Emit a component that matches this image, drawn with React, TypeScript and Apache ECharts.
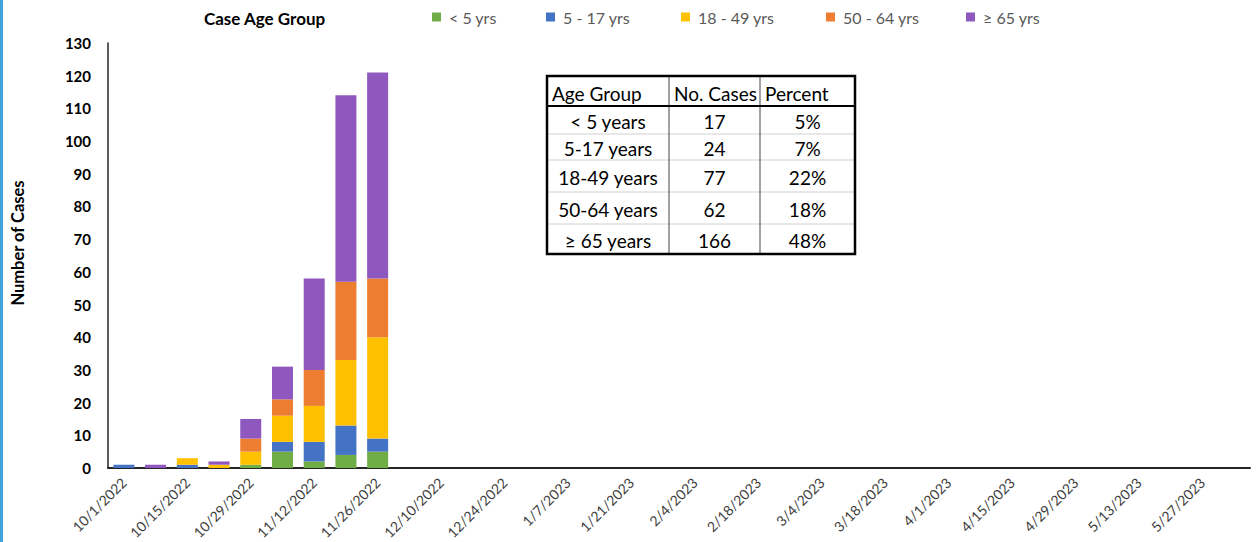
import React, { useEffect, useRef } from 'react';
import * as echarts from 'echarts';

const weeks = [
  '10/1/2022', '10/8/2022', '10/15/2022', '10/22/2022', '10/29/2022', '11/5/2022',
  '11/12/2022', '11/19/2022', '11/26/2022', '12/3/2022', '12/10/2022', '12/17/2022',
  '12/24/2022', '12/31/2022', '1/7/2023', '1/14/2023', '1/21/2023', '1/28/2023',
  '2/4/2023', '2/11/2023', '2/18/2023', '2/25/2023', '3/4/2023', '3/11/2023',
  '3/18/2023', '3/25/2023', '4/1/2023', '4/8/2023', '4/15/2023', '4/22/2023',
  '4/29/2023', '5/6/2023', '5/13/2023', '5/20/2023', '5/27/2023', '6/3/2023',
];

const seriesNames = ['< 5 yrs', '5 - 17 yrs', '18 - 49 yrs', '50 - 64 yrs', '≥ 65 yrs'];
const under5 = [0, 0, 0, 0, 1, 5, 2, 4, 5];
const age5to17 = [1, 0, 1, 0, 0, 3, 6, 9, 4];
const age18to49 = [0, 0, 2, 1, 4, 8, 11, 20, 31];
const age50to64 = [0, 0, 0, 0, 4, 5, 11, 24, 18];
const age65plus = [0, 1, 0, 1, 6, 10, 28, 57, 63];
const seriesColors = ['#70AD47', '#4472C4', '#FFC000', '#ED7D31', '#8E58BF'];

const tableHeaders = ['Age Group', 'No. Cases', 'Percent'];
const tableGroups = ['< 5 years', '5-17 years', '18-49 years', '50-64 years', '≥ 65 years'];
const tableCases = [17, 24, 77, 62, 166];
const tablePercents = ['5%', '7%', '22%', '18%', '48%'];

const FONT = 'Lato, "Open Sans", sans-serif';

export default function App() {
  const ref = useRef<HTMLDivElement>(null);
  useEffect(() => {
    const chart = echarts.init(ref.current!, null, { renderer: 'svg' });
    const data = [under5, age5to17, age18to49, age50to64, age65plus];
    const legendLeft = [432, 546, 681, 826, 966];

    // table geometry
    const colX = [547, 669, 760, 855];
    const rowY = [76, 106, 134, 160, 192, 224, 254];
    const tableEls: any[] = [];
    tableEls.push({
      type: 'rect',
      shape: { x: colX[0], y: rowY[0], width: colX[3] - colX[0], height: rowY[6] - rowY[0] },
      style: { fill: '#ffffff', stroke: 'none' },
    });
    for (let r = 2; r < 6; r++) {
      tableEls.push({
        type: 'line',
        shape: { x1: colX[0], y1: rowY[r], x2: colX[3], y2: rowY[r] },
        style: { stroke: '#d0d0d0', lineWidth: 1 },
      });
    }
    for (let c = 1; c < 3; c++) {
      tableEls.push({
        type: 'line',
        shape: { x1: colX[c], y1: rowY[0], x2: colX[c], y2: rowY[6] },
        style: { stroke: '#444444', lineWidth: 1 },
      });
    }
    tableEls.push({
      type: 'line',
      shape: { x1: colX[0], y1: rowY[1], x2: colX[3], y2: rowY[1] },
      style: { stroke: '#000000', lineWidth: 2 },
    });
    tableEls.push({
      type: 'rect',
      shape: { x: colX[0], y: rowY[0], width: colX[3] - colX[0], height: rowY[6] - rowY[0] },
      style: { fill: 'none', stroke: '#000000', lineWidth: 2.5 },
    });
    tableHeaders.forEach((h, i) => {
      tableEls.push({
        type: 'text',
        x: colX[i] + 5,
        y: (rowY[0] + rowY[1]) / 2 + 2,
        style: { text: h, fontSize: 19, fontFamily: FONT, fill: '#000', align: 'left', verticalAlign: 'middle' },
      });
    });
    tableGroups.forEach((g, r) => {
      const cy = (rowY[r + 1] + rowY[r + 2]) / 2 + 1;
      const vals = [g, String(tableCases[r]), tablePercents[r]];
      vals.forEach((v, c) => {
        tableEls.push({
          type: 'text',
          x: (colX[c] + colX[c + 1]) / 2,
          y: cy,
          style: { text: v, fontSize: 19, fontFamily: FONT, fill: '#000', align: 'center', verticalAlign: 'middle' },
        });
      });
    });

    const option: any = {
      animation: false,
      backgroundColor: '#ffffff',
      grid: { left: 108, right: 6, top: 43, bottom: 74, containLabel: false },
      legend: seriesNames.map((n, i) => ({
        data: [n],
        left: legendLeft[i],
        top: 9,
        padding: 0,
        itemWidth: 9,
        itemHeight: 9,
        itemGap: 0,
        icon: 'rect',
        selectedMode: false,
        textStyle: { fontSize: 16, fontFamily: FONT, color: '#595959', padding: [0, 0, 0, 3] },
      })),
      xAxis: {
        type: 'category',
        data: weeks,
        axisLine: { lineStyle: { color: '#262626', width: 2 } },
        axisTick: { show: false },
        axisLabel: {
          interval: 1,
          rotate: 45,
          margin: 12,
          fontSize: 14,
          fontFamily: FONT,
          color: '#404040',
        },
        splitLine: { show: false },
      },
      yAxis: {
        type: 'value',
        min: 0,
        max: 130,
        interval: 10,
        axisLine: { show: true, lineStyle: { color: '#262626', width: 1.5 } },
        axisTick: { show: false },
        axisLabel: { fontSize: 15, fontWeight: 'bold', fontFamily: FONT, color: '#000', margin: 17 },
        splitLine: { show: false },
      },
      series: seriesNames.map((n, i) => ({
        name: n,
        type: 'bar',
        stack: 'cases',
        barWidth: 21,
        data: data[i],
        itemStyle: { color: seriesColors[i] },
      })),
      graphic: [
        { type: 'rect', shape: { x: 0, y: 0, width: 3, height: 542 }, style: { fill: '#41A2DC' } },
        {
          type: 'text',
          x: 204,
          y: 18,
          style: { text: 'Case Age Group', fontSize: 17, fontWeight: 'bold', fontFamily: FONT, fill: '#000', align: 'left', verticalAlign: 'middle' },
        },
        {
          type: 'text',
          x: 18,
          y: 243,
          rotation: Math.PI / 2,
          style: { text: 'Number of Cases', fontSize: 16.5, fontWeight: 'bold', fontFamily: FONT, fill: '#000', align: 'center', verticalAlign: 'middle' },
        },
        ...tableEls,
      ],
    };
    chart.setOption(option);
    return () => chart.dispose();
  }, []);
  return <div ref={ref} style={{ position: 'absolute', left: 0, top: 0, width: 1256, height: 542 }} />;
}
